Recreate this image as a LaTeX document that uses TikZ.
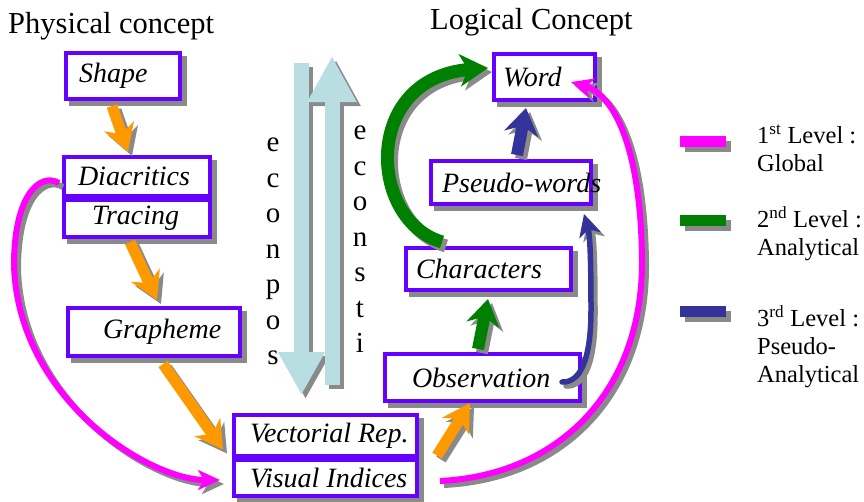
\documentclass[tikz,border=0pt]{standalone}
\usepackage{fontspec}
\setmainfont{Liberation Serif}
\usetikzlibrary{arrows.meta,calc,shadows}

\definecolor{boxpurple}{HTML}{6600FF}
\definecolor{orangec}{HTML}{FF9900}
\definecolor{greenc}{HTML}{008000}
\definecolor{bluec}{HTML}{333399}
\definecolor{magentac}{HTML}{FF00FF}
\definecolor{lightbluec}{HTML}{B8DEE2}
\definecolor{shgray}{HTML}{8A8A8A}

% label inside a box: fixed width, left offset
\newcommand\boxlabel[3]{\makebox[#1pt][l]{\hspace*{#2pt}#3}}
% a connector with its grey drop shadow underneath
\newcommand\shpath[2]{%
  \draw[#1, draw=shgray, transform canvas={shift={(4pt,-4pt)}}] #2;
  \draw[#1] #2;}

\tikzset{
  box/.style 2 args={draw=boxpurple, line width=4pt, fill=white, inner sep=0pt,
    minimum width=#1pt, minimum height=#2pt,
    font=\itshape\fontsize{28}{30}\selectfont,
    drop shadow={shadow xshift=5pt, shadow yshift=-5pt, fill=shgray, draw=shgray, opacity=1}},
  orangearrow/.style={draw=orangec, line width=11pt, -{Stealth[length=27pt,width=31pt,inset=8pt]}},
  greenarrow/.style={draw=greenc, line width=12pt, -{Stealth[length=26pt,width=33pt,inset=8pt]}},
  greencurve/.style={draw=greenc, line width=13pt, -{Stealth[length=28pt,width=32pt,inset=8pt]}},
  bluearrow/.style={draw=bluec, line width=12pt, -{Stealth[length=26pt,width=34pt,inset=8pt]}},
  bluecurve/.style={draw=bluec, line width=5.5pt, line cap=round, -{Stealth[length=22pt,width=22pt,inset=6pt]}},
  magentacurve/.style={draw=magentac, line width=6pt, -{Stealth[length=22pt,width=20pt,inset=6pt]}},
  decomp/.style={draw=lightbluec, line width=15pt},
  legbar/.style={inner sep=0pt, minimum width=46pt, minimum height=11pt,
    drop shadow={shadow xshift=5pt, shadow yshift=-5pt, fill=shgray, opacity=1}},
  legtext/.style={anchor=north west, inner sep=0pt, align=left, font=\fontsize{24.5}{28}\selectfont},
  vletters/.style={anchor=north, inner sep=0pt, align=center, font=\fontsize{29}{35.5}\selectfont},
  title/.style={anchor=base west, inner sep=0pt, font=\fontsize{30.5}{36}\selectfont},
}

\begin{document}
\begin{tikzpicture}[x=1pt, y=-1pt]
\useasboundingbox (0,0) rectangle (864,501);
\fill[white] (0,0) rectangle (864,501);

% titles
\node[title] (phys) at (8,33) {Physical concept};
\node[title] (logi) at (430,29) {Logical Concept};

% decomposition / construction arrows
\coordinate (dtop) at (301.5,63);
\coordinate (dtip) at (301.5,395);
\coordinate (ubot) at (332,385);
\coordinate (utip) at (332,56);
\shpath{decomp, -{Triangle[length=43pt,width=44pt]}}{(dtop) -- (dtip)}
\shpath{decomp, -{Triangle[length=46pt,width=46pt]}}{(ubot) -- (utip)}
\node[vletters] (decomptext) at (273,138) {e\\c\\o\\n\\p\\o\\s};
\node[vletters] (consttext) at (360,126) {e\\c\\o\\n\\s\\t\\i};

% physical side
\node[box={114}{46}] (shape) at (123,76) {\boxlabel{114}{13}{Shape}};
\node[box={146}{39}] (diacritics) at (137,176.5) {\boxlabel{146}{14}{Diacritics}};
\node[box={146}{37}] (tracing) at (137,218.5) {\boxlabel{146}{28}{Tracing}};
\node[box={172}{48}] (grapheme) at (154,332) {\boxlabel{172}{35}{Grapheme}};
\node[box={183}{41}] (vectorial) at (325.5,435.5) {\boxlabel{183}{16}{Vectorial Rep.}};
\node[box={183}{36}] (visual) at (325.5,478) {\boxlabel{183}{16}{Visual Indices}};

% logical side
\node[box={101}{46}] (word) at (544.5,77) {\boxlabel{101}{9}{Word}};
\node[box={160}{43}] (pseudo) at (511,182.5) {\boxlabel{160}{11}{Pseudo-words}};
\node[box={165}{42}] (characters) at (488.5,269) {\boxlabel{165}{10}{Characters}};
\node[box={195}{47}] (observation) at (482.5,377.5) {\boxlabel{195}{27}{Observation}};

% physical chain
\shpath{orangearrow}{($(shape.south)+(-11,5)$) -- ($(diacritics.north)+(-9,-3)$)}
\shpath{orangearrow}{($(tracing.south)+(-7,3)$) -- ($(grapheme.north)+(3,-6)$)}
\shpath{orangearrow}{($(grapheme.south)+(9,6)$) -- ($(vectorial.west)+(-9,14)$)}
\shpath{orangearrow}{($(vectorial.east)+(18,20)$) -- ($(observation.south)+(-12.5,0)$)}

% analytical level
\shpath{greenarrow}{($(observation.north)+(-4.5,-3)$) -- ($(characters.south)+(-0.5,7)$)}
\shpath{greencurve}{($(characters.north)+(-46.5,-4)$) .. controls (368,220) and (362,78) .. ($(word.west)+(-4,-9)$)}

% pseudo-analytical level
\shpath{bluearrow}{($(pseudo.north)+(6,-4)$) -- ($(word.south)+(-18.5,6)$)}
\shpath{bluecurve}{($(observation.east)+(-20,4.5)$) .. controls (580,383) and (591,360) .. (591,310) .. controls (591,260) and (590,235) .. ($(pseudo.south east)+(-9,8)$)}

% global level
\shpath{magentacurve}{($(diacritics.west)+(-3,6.5)$) .. controls (40,172) and (14,195) .. (14,265) .. controls (18,400) and (150,480) .. ($(visual.west)+(-12,2)$)}
\shpath{magentacurve}{($(visual.east)+(21,3)$) .. controls (560,475) and (643,390) .. (642,260) .. controls (641,150) and (615,95) .. ($(word.east)+(-26,5)$)}

% legend
\node[legbar, fill=magentac] (bar1) at (703,141.5) {};
\node[legbar, fill=greenc] (bar2) at (703,220.5) {};
\node[legbar, fill=bluec] (bar3) at (703,311) {};
\node[legtext] (lev1) at (757,125) {1\textsuperscript{st} Level :\\Global};
\node[legtext] (lev2) at (757,206) {2\textsuperscript{nd} Level :\\Analytical};
\node[legtext] (lev3) at (757,305) {3\textsuperscript{rd} Level :\\Pseudo-\\Analytical};
\end{tikzpicture}
\end{document}
